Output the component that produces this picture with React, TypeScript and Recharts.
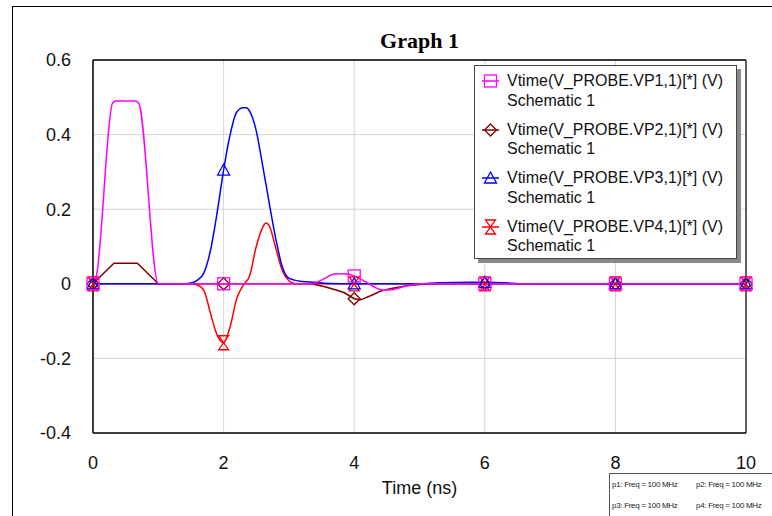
import React from 'react';
import { LineChart, Line, XAxis, YAxis, CartesianGrid, ReferenceLine } from 'recharts';

// time (ns) / value (V) pairs per probe
const tVP1 = [0, 0.05, 0.3, 0.35, 0.65, 0.7, 1.0, 1.5, 2, 3, 3.35, 3.5, 3.7, 3.85, 4, 4.15, 4.3, 4.45, 4.6, 4.8, 5.0, 6, 8, 10];
const vVP1 = [0, 0.02, 0.485, 0.49, 0.49, 0.485, 0, 0, 0, 0, 0, 0.01, 0.026, 0.027, 0.021, 0.008, -0.008, -0.017, -0.015, -0.006, 0, 0, 0, 0];

const tVP2 = [0, 0.32, 0.68, 1.0, 2, 3, 3.35, 3.55, 3.75, 3.85, 4.0, 4.1, 4.25, 4.4, 4.55, 4.8, 5.0, 5.3, 6, 8, 10];
const vVP2 = [0, 0.055, 0.055, 0, 0, 0, 0, -0.008, -0.018, -0.024, -0.04, -0.043, -0.032, -0.02, -0.013, -0.005, -0.002, 0, 0, 0, 0];

const tVP3 = [0, 1.4, 1.5, 1.6, 1.7, 1.8, 1.9, 2.0, 2.1, 2.2, 2.3, 2.35, 2.4, 2.5, 2.6, 2.7, 2.8, 2.9, 3.0, 3.2, 3.4, 3.6, 4, 5, 5.3, 5.8, 6, 6.3, 6.6, 8, 10];
const vVP3 = [0, 0, 0.002, 0.01, 0.03, 0.09, 0.19, 0.305, 0.4, 0.46, 0.472, 0.472, 0.462, 0.41, 0.315, 0.215, 0.12, 0.045, 0.015, 0.006, 0.004, 0.001, 0, 0, 0.003, 0.004, 0.004, 0.003, 0, 0, 0];

const tVP4 = [0, 1.5, 1.6, 1.7, 1.8, 1.9, 2.0, 2.1, 2.2, 2.3, 2.4, 2.5, 2.6, 2.65, 2.7, 2.8, 2.9, 3.0, 3.1, 4, 6, 8, 10];
const vVP4 = [0, 0, -0.003, -0.018, -0.08, -0.137, -0.158, -0.115, -0.04, -0.004, 0.022, 0.1, 0.152, 0.163, 0.155, 0.095, 0.035, 0.008, 0, 0, 0, 0, 0];

const markerTimes = [0, 2, 4, 6, 8, 10];
const xTicks = [0, 2, 4, 6, 8, 10];
const yTicks = [-0.4, -0.2, 0, 0.2, 0.4, 0.6];

const legendNames = [
  'Vtime(V_PROBE.VP1,1)[*] (V)',
  'Vtime(V_PROBE.VP2,1)[*] (V)',
  'Vtime(V_PROBE.VP3,1)[*] (V)',
  'Vtime(V_PROBE.VP4,1)[*] (V)',
];
const freqNotes = ['p1: Freq = 100 MHz', 'p2: Freq = 100 MHz', 'p3: Freq = 100 MHz', 'p4: Freq = 100 MHz'];

const toRows = (ts: number[], vs: number[]) => ts.map((t, i) => ({ t, v: vs[i] }));

const series = [
  { key: 'vp4', data: toRows(tVP4, vVP4), color: '#ff0000', shape: 'hourglass', curve: 'monotone' },
  { key: 'vp2', data: toRows(tVP2, vVP2), color: '#800000', shape: 'diamond', curve: 'linear' },
  { key: 'vp3', data: toRows(tVP3, vVP3), color: '#0000ff', shape: 'triangle', curve: 'monotone' },
  { key: 'vp1', data: toRows(tVP1, vVP1), color: '#ff00ff', shape: 'square', curve: 'monotone' },
];
const legendOrder = ['vp1', 'vp2', 'vp3', 'vp4'];

function Marker({ shape, color, x, y }: { shape: string; color: string; x: number; y: number }) {
  const common = { fill: 'none', stroke: color, strokeWidth: 1.3 };
  if (shape === 'square') return <rect x={x - 6} y={y - 6} width={12} height={12} {...common} />;
  if (shape === 'diamond') return <path d={`M${x},${y - 6}L${x + 6},${y}L${x},${y + 6}L${x - 6},${y}Z`} {...common} />;
  if (shape === 'triangle') return <path d={`M${x},${y - 6}L${x + 6},${y + 5}L${x - 6},${y + 5}Z`} {...common} />;
  return <path d={`M${x - 5},${y - 7}L${x + 5},${y - 7}L${x - 5},${y + 7}L${x + 5},${y + 7}Z`} {...common} />;
}

const makeDot = (shape: string, color: string) => (p: any) => {
  const { cx, cy, payload, index } = p;
  if (!markerTimes.includes(payload.t)) return <g key={index} />;
  return (
    <g key={index}>
      <Marker shape={shape} color={color} x={cx} y={cy} />
    </g>
  );
};

const sans = '"Liberation Sans", Arial, sans-serif';

export default function App() {
  return (
    <div style={{ position: 'absolute', left: 0, top: 0, width: 772, height: 516, background: '#fff', overflow: 'hidden', fontFamily: sans }}>
      <div style={{ position: 'absolute', left: 12, top: 6, width: 800, height: 600, borderLeft: '1px solid #000', borderTop: '1px solid #000' }} />
      <LineChart width={772} height={516} margin={{ top: 60, right: 26, bottom: 53, left: 13 }}>
        <CartesianGrid stroke="#d4d4d4" strokeWidth={1} />
        <XAxis
          type="number"
          dataKey="t"
          domain={[0, 10]}
          ticks={xTicks}
          height={30}
          tickLine={false}
          tickMargin={17}
          axisLine={{ stroke: '#000', strokeWidth: 1.5 }}
          tick={{ fill: '#111', fontSize: 18, fontFamily: sans }}
          allowDuplicatedCategory={false}
        />
        <YAxis
          type="number"
          dataKey="v"
          domain={[-0.4, 0.6]}
          ticks={yTicks}
          width={80}
          tickLine={false}
          tickMargin={16}
          axisLine={{ stroke: '#000', strokeWidth: 1.5 }}
          tick={{ fill: '#111', fontSize: 18, fontFamily: sans }}
        />
        <ReferenceLine y={0.6} stroke="#000" strokeWidth={1.5} />
        <ReferenceLine x={10} stroke="#333" strokeWidth={1.5} />
        {series.map(s => (
          <Line
            key={s.key}
            data={s.data}
            dataKey="v"
            type={s.curve as any}
            stroke={s.color}
            strokeWidth={1.5}
            dot={makeDot(s.shape, s.color)}
            activeDot={false}
            isAnimationActive={false}
          />
        ))}
      </LineChart>

      <div style={{ position: 'absolute', left: 0, width: 839, top: 28, textAlign: 'center', fontFamily: '"Liberation Serif", "Times New Roman", serif', fontWeight: 'bold', fontSize: 22 }}>
        Graph 1
      </div>
      <div style={{ position: 'absolute', left: 0, width: 839, top: 478, textAlign: 'center', fontSize: 18, color: '#111' }}>
        Time (ns)
      </div>

      <div style={{ position: 'absolute', left: 474, top: 65, width: 261, height: 192, background: '#fff', border: '1px solid #444', boxShadow: '4px 4px 0 #8a8a8a' }}>
        {legendOrder.map((k, i) => {
          const s = series.find(x => x.key === k)!;
          return (
            <div key={k} style={{ position: 'absolute', left: 0, top: 5 + i * 48.5, width: 261 }}>
              <svg width={30} height={20} style={{ position: 'absolute', left: 4, top: 0 }}>
                <line x1={3} x2={20} y1={10} y2={10} stroke={s.color} strokeWidth={1.5} />
                <Marker shape={s.shape} color={s.color} x={11.5} y={10} />
              </svg>
              <div style={{ position: 'absolute', left: 32, top: 0, fontSize: 16, lineHeight: '19.5px', color: '#111', whiteSpace: 'nowrap' }}>
                {legendNames[i]}
                <br />
                Schematic 1
              </div>
            </div>
          );
        })}
      </div>

      <div style={{ position: 'absolute', left: 609, top: 473, width: 200, height: 42, border: '1px solid #555', fontSize: 8, color: '#222', letterSpacing: -0.3 }}>
        {freqNotes.map((n, i) => (
          <div key={n} style={{ position: 'absolute', left: i % 2 === 0 ? 2 : 86, top: i < 2 ? 6 : 27, whiteSpace: 'nowrap' }}>
            {n}
          </div>
        ))}
      </div>
    </div>
  );
}
